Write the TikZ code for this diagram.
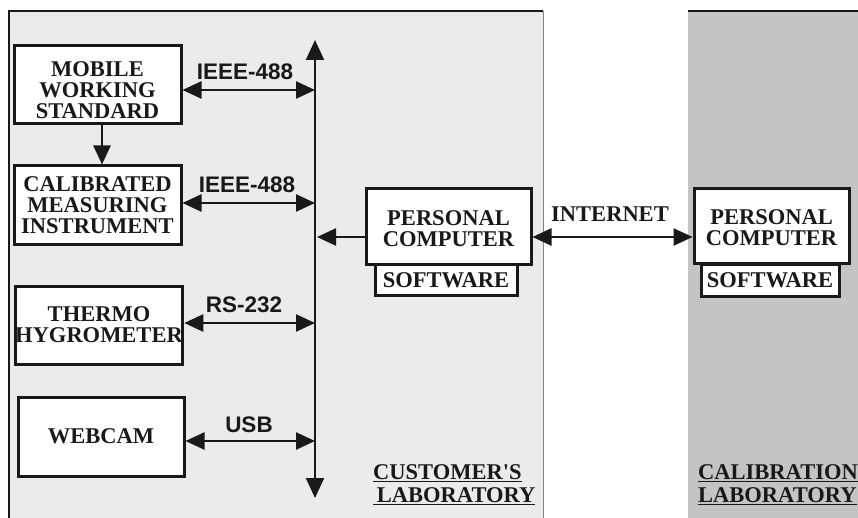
\documentclass[tikz,border=0pt]{standalone}
\usepackage{fontspec}
\setmainfont{Liberation Serif}
\setsansfont{Liberation Sans}
\usetikzlibrary{arrows.meta}
\definecolor{custbg}{RGB}{235,235,235}
\definecolor{calbg}{RGB}{196,196,196}
\definecolor{edgegray}{RGB}{130,130,130}
\definecolor{ink}{RGB}{25,25,25}
\begin{document}
\begin{tikzpicture}[x=1pt,y=-1pt,
  boxfont/.style={font=\fontsize{22.5}{21}\selectfont\bfseries, align=center, inner sep=0pt, text=ink},
  box/.style={draw=ink, line width=3pt, fill=white, boxfont},
  boxlow/.style={box, label={[boxfont, yshift=-#1]center:}},
  tag/.style={font=\fontsize{22.5}{21}\selectfont\sffamily\bfseries, inner sep=0pt, text=ink},
  lab/.style={font=\fontsize{22.5}{22}\selectfont\bfseries, inner sep=0pt, align=left, text=ink},
  conn/.style={draw=ink, line width=2.5pt, -{Triangle[length=19pt,width=17pt]}},
  bicon/.style={draw=ink, line width=2.5pt, {Triangle[length=19pt,width=17pt]}-{Triangle[length=19pt,width=17pt]}}
]
\useasboundingbox (0,0) rectangle (858,518);
% regions
\fill[custbg] (9,11) rectangle (543,518);
\fill[calbg] (688,11) rectangle (858,518);
\draw[edgegray, line width=1pt] (543,11) -- (543,518);
\draw[ink, line width=1.2pt] (9,518) -- (9,11) -- (543,11);
\draw[ink, line width=1.2pt] (688,11) -- (858,11);

% boxes
\node[box, minimum width=167pt, minimum height=78pt,
  label={[boxfont, yshift=-5pt]center:{MOBILE\\WORKING\\STANDARD}}] (mws) at (97.5,85) {};
\node[box, minimum width=167pt, minimum height=79pt] (cal) at (97.5,205.5) {CALIBRATED\\MEASURING\\INSTRUMENT};
\node[box, minimum width=166pt, minimum height=78pt] (thermo) at (99,325) {THERMO\\HYGROMETER};
\node[box, minimum width=166pt, minimum height=79pt] (cam) at (101,436.5) {WEBCAM};
\node[box, minimum width=142pt, minimum height=30pt] (sw) at (446,280) {SOFTWARE};
\node[box, minimum width=165pt, minimum height=76pt,
  label={[boxfont, yshift=-2pt]center:{PERSONAL\\COMPUTER}}] (pc) at (448.5,227) {};
\node[box, minimum width=138pt, minimum height=31pt] (sw2) at (770,280.5) {SOFTWARE};
\node[box, minimum width=155pt, minimum height=75pt,
  label={[boxfont, yshift=-2pt]center:{PERSONAL\\COMPUTER}}] (pc2) at (771.5,226) {};

% bus
\coordinate (bustop) at (315,40);
\coordinate (busbot) at (315,498);
\draw[draw=ink, line width=2pt, {Triangle[length=20pt,width=18pt]}-{Triangle[length=20pt,width=18pt]}] (bustop) -- (busbot);
\coordinate (b1) at (315,90);
\coordinate (b2) at (315,203);
\coordinate (b3) at (315,323);
\coordinate (b4) at (315,441);
\coordinate (b5) at (317,237);

\draw[bicon] (mws.east |- b1) -- (b1);
\draw[bicon] (cal.east |- b2) -- (b2);
\draw[bicon] (thermo.east |- b3) -- (b3);
\draw[bicon] (cam.east |- b4) -- (b4);
\draw[conn] (pc.west |- b5) -- (b5);
\draw[bicon] (pc.east |- b5) -- (pc2.west |- b5);
\draw[conn] ([xshift=4.5pt]mws.south) -- ([xshift=4.5pt]cal.north);

% tags
\node[tag] (t1) at (245,72) {IEEE-488};
\node[tag] (t2) at (247,184.5) {IEEE-488};
\node[tag] (t3) at (244,305) {RS-232};
\node[tag] (t4) at (249,425) {USB};
\node[boxfont] (inet) at (610,214.5) {INTERNET};

% lab labels
\node[lab, anchor=north west] (custlab) at (373,464) {\underline{CUSTOMER\textquotesingle S}\\[1pt]\underline{\,LABORATORY}};
\node[lab, anchor=north west] (callab) at (698,464) {\underline{CALIBRATION}\\[1pt]\underline{LABORATORY}};
\end{tikzpicture}
\end{document}
